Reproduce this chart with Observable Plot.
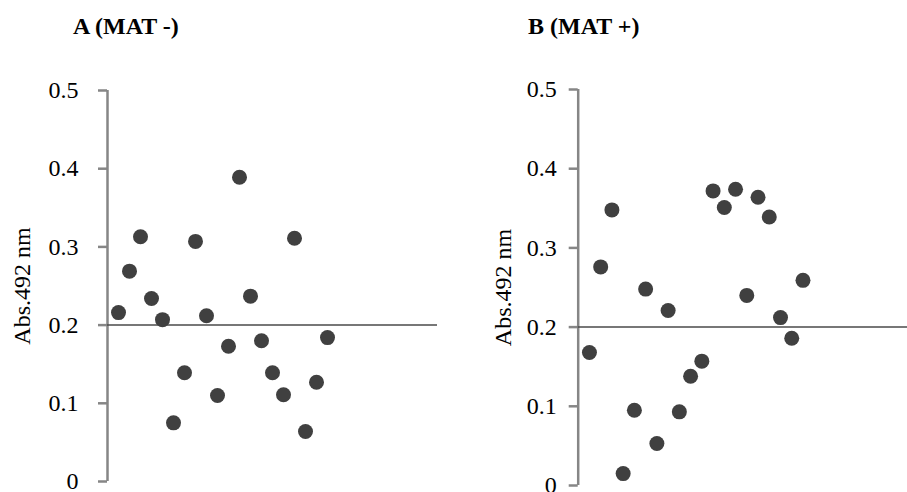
<!DOCTYPE html>
<html><head><meta charset="utf-8">
<script src="https://cdn.jsdelivr.net/npm/d3@7"></script>
<script src="https://cdn.jsdelivr.net/npm/@observablehq/plot@0.6"></script>
<style>
body{margin:0;background:#fff;}
#wrap{position:relative;width:907px;height:492px;overflow:hidden;font-family:"Liberation Serif","Times New Roman",serif;}
.panel{position:absolute;top:0;}
.title{position:absolute;font-weight:bold;font-size:24px;line-height:1;color:#000;white-space:nowrap;}
</style></head><body>
<div id="wrap"></div>
<script>
const samples = [1,2,3,4,5,6,7,8,9,10,11,12,13,14,15,16,17,18,19,20];
const valuesA = [0.216,0.269,0.313,0.234,0.207,0.075,0.139,0.307,0.212,0.110,0.173,0.389,0.237,0.180,0.139,0.111,0.311,0.064,0.127,0.184];
const valuesB = [0.168,0.276,0.348,0.015,0.095,0.248,0.053,0.221,0.093,0.138,0.157,0.372,0.351,0.374,0.240,0.364,0.339,0.212,0.186,0.259];
const yTicks = [0,0.1,0.2,0.3,0.4,0.5];
const tickLabels = ["0","0.1","0.2","0.3","0.4","0.5"];
const titles = ["A (MAT -)","B (MAT +)"];
const yLabel = "Abs.492 nm";
const cutoff = 0.2;

const wrap = document.getElementById("wrap");

function panel(values, o) {
  const data = samples.map((s, i) => ({s, v: values[i]}));
  return Plot.plot({
    width: o.width, height: 492,
    marginLeft: o.marginLeft, marginRight: o.marginRight,
    marginTop: o.marginTop, marginBottom: o.marginBottom,
    style: {fontFamily: "'Liberation Serif','Times New Roman',serif", fontSize: "24px", color: "#000", background: "transparent", overflow: "visible"},
    x: {domain: o.xDomain, axis: null},
    y: {domain: [0, 0.5], axis: null},
    marks: [
      Plot.axisY(yTicks, {tickSize: 9, tickPadding: o.tickPadding, stroke: "#868686", strokeWidth: 2.5,
        tickFormat: d => tickLabels[yTicks.indexOf(d)], fontSize: 24, fill: "#000", label: null}),
      Plot.ruleX([0], {y1: 0, y2: 0.5, stroke: "#868686", strokeWidth: 2.5}),
      Plot.ruleY([cutoff], {stroke: "#4a4a4a", strokeWidth: 1.5}),
      Plot.dot(data, {x: "s", y: "v", r: 7.5, fill: "#404040"}),
      Plot.text([yLabel], {frameAnchor: "left", dx: o.labelX - o.marginLeft, rotate: -90, fontSize: 24, fill: "#000", textAnchor: "middle"})
    ]
  });
}

const left = panel(valuesA, {width: 453, marginLeft: 107, marginRight: 16, marginTop: 90, marginBottom: 11,
  xDomain: [0, 30], tickPadding: 20, labelX: 22});
left.classList.add("panel"); left.style.left = "0px";
wrap.appendChild(left);

const right = panel(valuesB, {width: 454, marginLeft: 124.7, marginRight: 0, marginTop: 89, marginBottom: 7,
  xDomain: [0, 29.3], tickPadding: 12.5, labelX: 50});
right.classList.add("panel"); right.style.left = "453px";
wrap.appendChild(right);

[[titles[0], 73], [titles[1], 528]].forEach(([t, x]) => {
  const d = document.createElement("div");
  d.className = "title"; d.textContent = t;
  d.style.left = x + "px"; d.style.top = "14px";
  wrap.appendChild(d);
});
</script>
</body></html>
